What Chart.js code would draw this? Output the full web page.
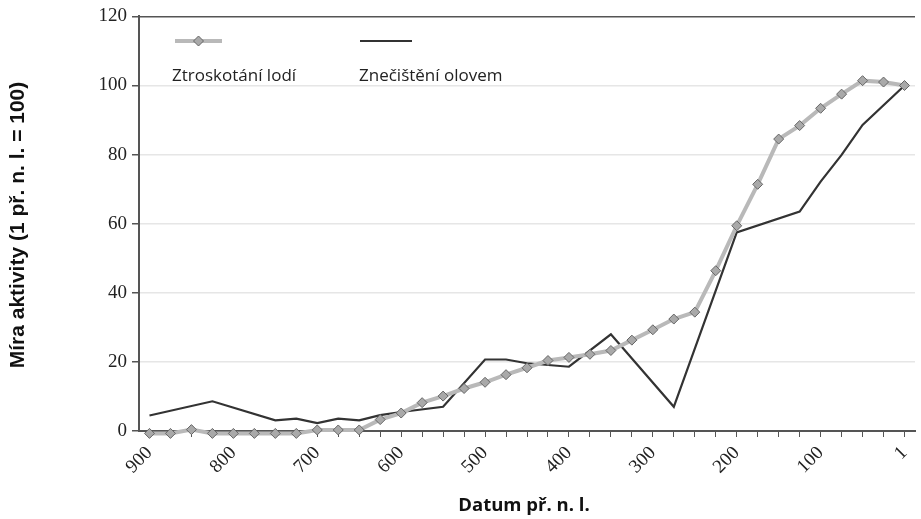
<!DOCTYPE html>
<html>
<head>
<meta charset="utf-8">
<script src="https://cdn.jsdelivr.net/npm/chart.js@4.4.1/dist/chart.umd.min.js"></script>
<style>
  html, body { margin: 0; padding: 0; background: #fff; }
  #wrap { width: 921px; height: 519px; position: relative; }
</style>
</head>
<body>
<div id="wrap"><canvas id="myChart"></canvas></div>
<script>
// roky př. n. l. (kategorie osy x)
const roky = ['900','875','850','825','800','775','750','725','700','675','650','625','600',
  '575','550','525','500','475','450','425','400','375','350','325','300','275','250',
  '225','200','175','150','125','100','75','50','25','1'];

const ztroskotani = [-0.7,-0.7,0.4,-0.7,-0.7,-0.7,-0.7,-0.7,0.3,0.3,0.3,3.3,5.2,8.2,10.1,12.3,
  14.1,16.3,18.3,20.4,21.3,22.2,23.3,26.3,29.3,32.4,34.4,46.4,59.4,71.4,84.5,88.4,93.4,97.5,
  101.4,101,100];

const olovo = [4.5,null,null,8.6,null,null,3.1,3.6,2.3,3.6,3.1,4.6,5.5,null,7.0,null,20.7,20.7,
  19.6,null,18.6,null,28.0,null,null,7.0,null,null,57.5,null,null,63.5,72.2,79.9,88.6,null,100];

const yTicks = [0, 20, 40, 60, 80, 100, 120];

const nazvy = ['Ztroskotání lodí', 'Znečištění olovem'];
const titulekX = 'Datum př. n. l.';
const titulekY = 'Míra aktivity (1 př. n. l. = 100)';

const GRAY_LINE = '#b9b9b9';
const GRAY_PT = '#a9a9a9';
const DARK = '#333333';
const AXIS = '#555555';

// popisky os a legenda uvnitř grafu
const popisky = {
  id: 'popisky',
  afterDraw(chart) {
    const c = chart.ctx;
    c.save();

    // legenda
    c.lineCap = 'butt';
    c.strokeStyle = GRAY_LINE;
    c.lineWidth = 4;
    c.beginPath(); c.moveTo(175, 41); c.lineTo(222, 41); c.stroke();
    c.fillStyle = GRAY_PT;
    c.strokeStyle = '#666';
    c.lineWidth = 1;
    c.beginPath();
    c.moveTo(198.5, 36); c.lineTo(203.5, 41); c.lineTo(198.5, 46); c.lineTo(193.5, 41);
    c.closePath(); c.fill(); c.stroke();

    c.strokeStyle = DARK;
    c.lineWidth = 2.2;
    c.beginPath(); c.moveTo(360, 41); c.lineTo(412, 41); c.stroke();

    c.fillStyle = '#222';
    c.font = '17px "Open Sans"';
    c.textAlign = 'left';
    c.textBaseline = 'alphabetic';
    c.fillText(nazvy[0], 172, 81);
    c.fillText(nazvy[1], 359, 81);

    // titulky os
    c.font = 'bold 18.5px "Open Sans"';
    c.textAlign = 'center';
    c.fillStyle = '#111';
    c.fillText(titulekX, 524, 511);

    c.translate(18, 225);
    c.rotate(-Math.PI / 2);
    c.font = 'bold 21px "Liberation Sans"';
    c.textBaseline = 'middle';
    c.fillText(titulekY, 0, 0);
    c.restore();
  }
};

const ctx = document.getElementById('myChart');
const chart = new Chart(ctx, {
  type: 'line',
  data: {
    labels: roky,
    datasets: [
      {
        label: nazvy[0],
        data: ztroskotani,
        borderColor: GRAY_LINE,
        borderWidth: 4,
        pointStyle: 'rectRot',
        pointRadius: 5,
        pointBackgroundColor: GRAY_PT,
        pointBorderColor: '#666',
        pointBorderWidth: 1,
        tension: 0,
        clip: false
      },
      {
        label: nazvy[1],
        data: olovo,
        borderColor: DARK,
        borderWidth: 2.2,
        pointRadius: 0,
        spanGaps: true,
        tension: 0
      }
    ]
  },
  options: {
    responsive: true,
    maintainAspectRatio: false,
    animation: false,
    layout: { padding: { top: 16, right: 0, left: 0, bottom: 0 } },
    plugins: {
      legend: { display: false },
      tooltip: { enabled: false }
    },
    scales: {
      x: {
        offset: true,
        grid: {
          drawOnChartArea: false,
          offset: false,
          tickLength: 6,
          tickColor: AXIS,
          tickWidth: 1
        },
        border: { color: AXIS, width: 2 },
        ticks: {
          autoSkip: false,
          minRotation: 45,
          maxRotation: 45,
          padding: 5,
          color: '#222',
          font: { family: '"Liberation Serif"', size: 19 },
          callback: (v, i) => (i % 4 === 0 ? roky[i] : '')
        },
        afterFit: (s) => { s.height = 88; s.paddingRight = 0; s.paddingLeft = 0; }
      },
      y: {
        min: 0,
        max: 120,
        afterBuildTicks: (s) => { s.ticks = yTicks.map(v => ({ value: v })); },
        grid: {
          color: (c) => (c.tick && c.tick.value === 120 ? AXIS : '#e6e6e6'),
          lineWidth: 1.5,
          tickLength: 7,
          tickColor: AXIS
        },
        border: { color: AXIS, width: 2 },
        ticks: {
          padding: 5,
          color: '#222',
          font: { family: '"Liberation Serif"', size: 19 }
        },
        afterFit: (s) => { s.width = 139; }
      }
    }
  },
  plugins: [popisky]
});
</script>
</body>
</html>
